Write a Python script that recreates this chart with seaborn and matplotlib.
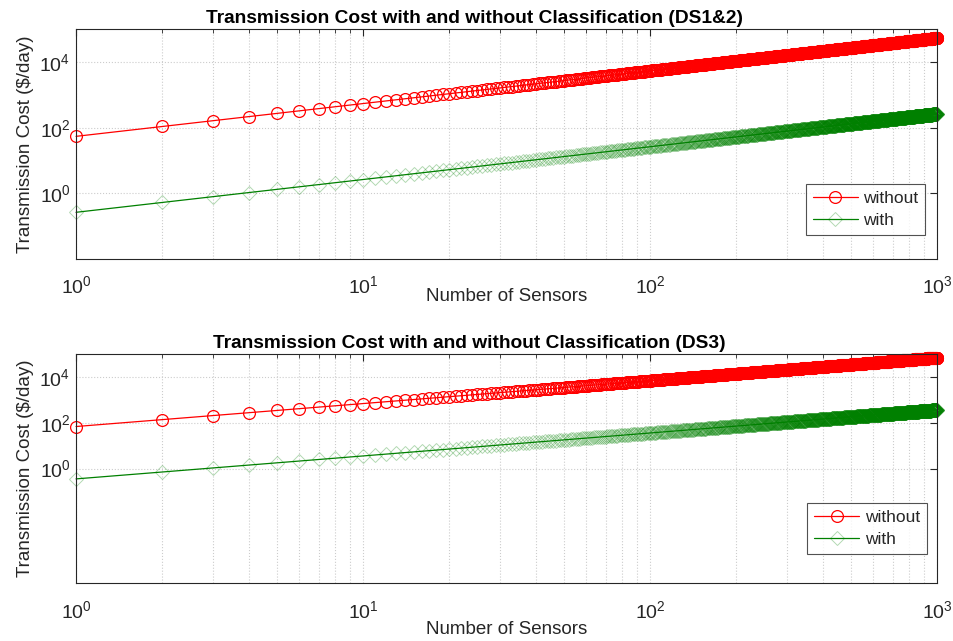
import numpy as np
import pandas as pd
import matplotlib
matplotlib.use("Agg")
import matplotlib.pyplot as plt
from matplotlib.ticker import LogLocator, FixedLocator, LogFormatterMathtext, NullFormatter
import seaborn as sns

sns.set_theme(style="white")
plt.rcParams['font.family'] = ['Liberation Sans', 'DejaVu Sans']
plt.rcParams['mathtext.fontset'] = 'custom'
plt.rcParams['mathtext.rm'] = 'Liberation Sans'
plt.rcParams['mathtext.it'] = 'Liberation Sans'

# Number of deployed sensors
sensors = np.arange(1, 1001)

# Daily transmission cost per sensor ($/day) for each dataset
datasets = ["DS1&2", "DS3"]
cost_per_sensor_without = [55.0, 68.0]
cost_per_sensor_with = [0.265, 0.355]
y_limits = [(1e-2, 1e5), (1e-5, 1e5)]
y_ticks = [1e0, 1e2, 1e4]

AX_COLOR = (0.15, 0.15, 0.15)

fig = plt.figure(figsize=(9.54, 6.41), dpi=100)
axes_boxes = [[0.0797, 0.596, 0.9025, 0.358], [0.0797, 0.090, 0.9025, 0.358]]
title_x = [0.497, 0.492]          # horizontal title centres (figure fraction)
xlabel_pads = [-6.6, -0.5]
legend_anchor = [(0.986, 0.104), (0.988, 0.126)]

for i, name in enumerate(datasets):
    ax = fig.add_axes(axes_boxes[i])
    df = pd.DataFrame({
        "sensors": sensors,
        "without": sensors * cost_per_sensor_without[i],
        "with": sensors * cost_per_sensor_with[i],
    })
    sns.lineplot(data=df, x="sensors", y="without", ax=ax, color="red",
                 linewidth=0.9, marker="o", markersize=8.5,
                 markerfacecolor="none", markeredgecolor="red",
                 markeredgewidth=0.9, label="without", clip_on=False, zorder=3)
    sns.lineplot(data=df, x="sensors", y="with", ax=ax, color=(0, 0.5, 0),
                 linewidth=0.9, marker="D", markersize=7.0,
                 markerfacecolor="none", markeredgecolor=(0, 0.5, 0, 0.3),
                 markeredgewidth=0.7, label="with", clip_on=False, zorder=3)

    ax.set_xscale("log")
    ax.set_yscale("log")
    ax.set_xlim(1, 1000)
    ax.set_ylim(*y_limits[i])

    ax.xaxis.set_major_locator(LogLocator(base=10, numticks=10))
    ax.xaxis.set_minor_locator(LogLocator(base=10, subs=np.arange(2, 10), numticks=20))
    ax.xaxis.set_major_formatter(LogFormatterMathtext())
    ax.xaxis.set_minor_formatter(NullFormatter())
    ax.yaxis.set_major_locator(FixedLocator(y_ticks))
    ax.yaxis.set_minor_locator(FixedLocator([]))
    ax.yaxis.set_major_formatter(LogFormatterMathtext())

    ax.grid(True, which="major", axis="both", color=(0.8, 0.8, 0.8),
            linestyle=":", linewidth=0.8)
    ax.grid(True, which="minor", axis="x", color=(0.8, 0.8, 0.8),
            linestyle=":", linewidth=0.8)
    ax.set_axisbelow(True)

    ax.tick_params(which="both", direction="in", top=True, right=True,
                   color=AX_COLOR, labelcolor=AX_COLOR, labelsize=14)
    ax.tick_params(which="major", length=5, width=0.8)
    ax.tick_params(which="minor", length=3, width=0.6)
    ax.tick_params(axis="x", which="major", pad=12)
    ax.tick_params(axis="y", which="major", pad=4)
    for sp in ax.spines.values():
        sp.set_color(AX_COLOR)
        sp.set_linewidth(0.8)
        sp.set_zorder(4)

    ax.set_xlabel("Number of Sensors", fontsize=13.5, color=AX_COLOR,
                  labelpad=xlabel_pads[i])
    ax.set_ylabel("Transmission Cost ($/day)", fontsize=13.5, color=AX_COLOR, labelpad=4)
    pos = ax.get_position()
    fig.text(title_x[i], pos.y1 + 6 / 641,
             f"Transmission Cost with and without Classification ({name})",
             ha="center", va="baseline", fontsize=13.8, fontweight="bold",
             color="black")

    leg = ax.legend(loc="lower right", bbox_to_anchor=legend_anchor[i], fontsize=12.5,
                    frameon=True, fancybox=False, edgecolor=AX_COLOR,
                    handlelength=2.6, handletextpad=0.3, borderpad=0.4,
                    labelspacing=0.4, numpoints=1, borderaxespad=0.0)
    leg.get_frame().set_linewidth(0.8)
    leg.set_zorder(5)

fig.savefig("out.png", dpi=100, facecolor="white")
